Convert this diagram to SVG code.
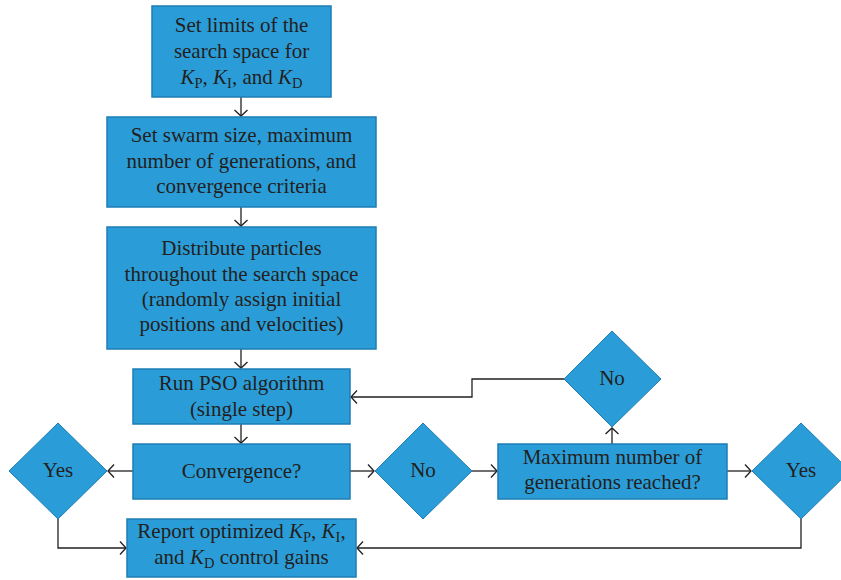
<svg xmlns="http://www.w3.org/2000/svg" width="841" height="580" viewBox="0 0 841 580">
<style>
.box{fill:#2a9dd8;stroke:#1e7db4;stroke-width:1.5}
.dia{fill:#2a9dd8;stroke:#1e7db4;stroke-width:1}
.t{font-family:"Liberation Serif","Times New Roman",serif;font-size:21px;fill:#231f20;text-anchor:middle}
.i{font-style:italic}
.s{font-size:14.5px}
.c{fill:none;stroke:#231f20;stroke-width:1.3}
</style>
<defs>
<marker id="ah" markerUnits="userSpaceOnUse" markerWidth="16" markerHeight="16" viewBox="-8 -8 16 16" refX="0" refY="0" orient="auto">
<path d="M-6,-6.5 L0,0 L-6,6.5" fill="none" stroke="#231f20" stroke-width="1.3"/>
</marker>
</defs>
<rect width="841" height="580" fill="#ffffff"/>
<g id="connectors">
<line class="c" x1="241" y1="97" x2="241" y2="116" marker-end="url(#ah)"/>
<line class="c" x1="241" y1="207" x2="241" y2="226" marker-end="url(#ah)"/>
<line class="c" x1="241" y1="349" x2="241" y2="368" marker-end="url(#ah)"/>
<line class="c" x1="241" y1="424" x2="241" y2="443" marker-end="url(#ah)"/>
<line class="c" x1="133" y1="471" x2="108" y2="471" marker-end="url(#ah)"/>
<line class="c" x1="350" y1="471" x2="374" y2="471" marker-end="url(#ah)"/>
<line class="c" x1="472" y1="471" x2="497" y2="471" marker-end="url(#ah)"/>
<line class="c" x1="727" y1="471" x2="751" y2="471" marker-end="url(#ah)"/>
<line class="c" x1="612" y1="444" x2="612" y2="428" marker-end="url(#ah)"/>
<polyline class="c" points="564,379 472,379 472,397 351,397" marker-end="url(#ah)"/>
<polyline class="c" points="58,519 58,548 126,548" marker-end="url(#ah)"/>
<polyline class="c" points="801,519 801,548 357,548" marker-end="url(#ah)"/>
</g>
<g id="n1">
<rect class="box" x="152" y="6" width="179" height="91"/>
<text class="t" x="241.5" y="32">Set limits of the</text>
<text class="t" x="241.5" y="58">search space for</text>
<text class="t" x="241.5" y="84"><tspan class="i">K</tspan><tspan class="s" dy="4">P</tspan><tspan dy="-4">, </tspan><tspan class="i">K</tspan><tspan class="s" dy="4">I</tspan><tspan dy="-4">, and </tspan><tspan class="i">K</tspan><tspan class="s" dy="4">D</tspan></text>
</g>
<g id="n2">
<rect class="box" x="107" y="117" width="269" height="90"/>
<text class="t" x="241.5" y="142">Set swarm size, maximum</text>
<text class="t" x="241.5" y="168">number of generations, and</text>
<text class="t" x="241.5" y="193">convergence criteria</text>
</g>
<g id="n3">
<rect class="box" x="107" y="227" width="269" height="122"/>
<text class="t" x="241.5" y="255">Distribute particles</text>
<text class="t" x="241.5" y="281">throughout the search space</text>
<text class="t" x="241.5" y="306">(randomly assign initial</text>
<text class="t" x="241.5" y="331">positions and velocities)</text>
</g>
<g id="n4">
<rect class="box" x="133" y="369" width="217" height="55"/>
<text class="t" x="241.5" y="390">Run PSO algorithm</text>
<text class="t" x="241.5" y="416">(single step)</text>
</g>
<g id="n5">
<rect class="box" x="133" y="444" width="217" height="55"/>
<text class="t" x="241.5" y="478">Convergence?</text>
</g>
<g id="n6">
<polygon class="dia" points="58,423 107,471 58,519 9,471"/>
<text class="t" x="58" y="477">Yes</text>
</g>
<g id="n7">
<polygon class="dia" points="423,423 472,471 423,519 375,471"/>
<text class="t" x="423" y="477">No</text>
</g>
<g id="n8">
<rect class="box" x="498" y="444" width="229" height="55"/>
<text class="t" x="612.5" y="464">Maximum number of</text>
<text class="t" x="612.5" y="489">generations reached?</text>
</g>
<g id="n9">
<polygon class="dia" points="612,331 661,379 612,427 564,379"/>
<text class="t" x="612" y="385">No</text>
</g>
<g id="n10">
<polygon class="dia" points="801,423 850,471 801,519 752,471"/>
<text class="t" x="801" y="477">Yes</text>
</g>
<g id="n11">
<rect class="box" x="127" y="519" width="229" height="58"/>
<text class="t" x="241.5" y="538">Report optimized <tspan class="i">K</tspan><tspan class="s" dy="3.5">P</tspan><tspan dy="-3.5">, </tspan><tspan class="i">K</tspan><tspan class="s" dy="3.5">I</tspan><tspan dy="-3.5">,</tspan></text>
<text class="t" x="241.5" y="564">and <tspan class="i">K</tspan><tspan class="s" dy="3.5">D</tspan><tspan dy="-3.5"> control gains</tspan></text>
</g>
</svg>
